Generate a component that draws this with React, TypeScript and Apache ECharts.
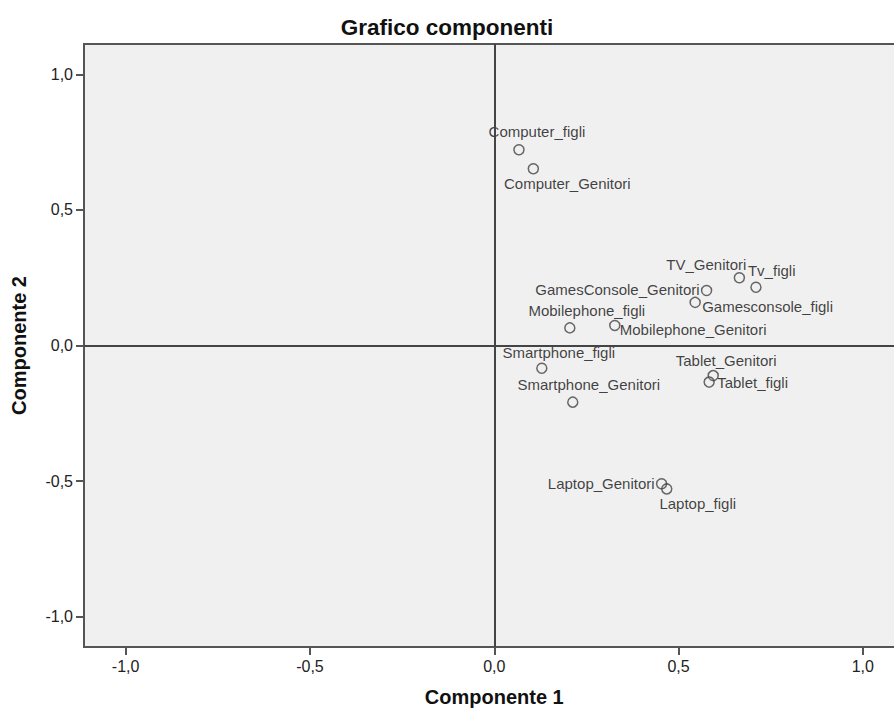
import React, { useEffect, useRef } from "react";
import * as echarts from "echarts";

const names = [
  "Computer_figli",
  "Computer_Genitori",
  "TV_Genitori",
  "Tv_figli",
  "GamesConsole_Genitori",
  "Gamesconsole_figli",
  "Mobilephone_figli",
  "Mobilephone_Genitori",
  "Smartphone_figli",
  "Smartphone_Genitori",
  "Tablet_Genitori",
  "Tablet_figli",
  "Laptop_Genitori",
  "Laptop_figli",
];
const componente1 = [0.067, 0.106, 0.665, 0.71, 0.576, 0.545, 0.205, 0.327, 0.129, 0.213, 0.594, 0.583, 0.454, 0.468];
const componente2 = [0.722, 0.652, 0.25, 0.215, 0.203, 0.159, 0.065, 0.074, -0.084, -0.209, -0.111, -0.135, -0.51, -0.529];
const tickValues = [-1, -0.5, 0, 0.5, 1];

// label placement relative to the marker: [align, dx, dy]
const labelLayout: [string, number, number][] = [
  ["center", 18, -18],
  ["center", 34, 15],
  ["right", 7, -13],
  ["left", -8, -17],
  ["right", -7, -1],
  ["left", 7, 4],
  ["center", 17, -17],
  ["left", 5, 4],
  ["center", 17, -16],
  ["center", 16, -18],
  ["center", 13, -15],
  ["left", 8, 0],
  ["right", -7, 0],
  ["center", 31, 15],
];

const FONT = "'Liberation Sans', Arial, Helvetica, sans-serif";
const fmt = (v: number) => v.toFixed(1).replace(".", ",");

export default function App() {
  const ref = useRef<HTMLDivElement>(null);
  useEffect(() => {
    if (!ref.current) return;
    const chart = echarts.init(ref.current, undefined, { renderer: "svg" });
    const data = names.map((n, i) => ({
      name: n,
      value: [componente1[i], componente2[i]],
      label: {
        show: true,
        position: "inside",
        align: labelLayout[i][0],
        verticalAlign: "middle",
        offset: [labelLayout[i][1], labelLayout[i][2]],
        formatter: n,
      },
    }));
    chart.setOption({
      animation: false,
      backgroundColor: "#ffffff",
      title: {
        text: "Grafico componenti",
        left: "center",
        top: 11,
        textStyle: { fontFamily: FONT, fontSize: 22.5, fontWeight: "bold", color: "#111" },
      },
      grid: {
        left: 84,
        top: 44,
        right: -10.5,
        height: 603,
        containLabel: false,
        outerBoundsMode: "none",
        show: true,
        backgroundColor: "#f0f0f0",
        borderColor: "#555",
        borderWidth: 2,
      },
      xAxis: {
        type: "value",
        min: -1.113,
        max: 1.113,
        name: "Componente 1",
        nameLocation: "middle",
        nameGap: 40,
        nameTextStyle: { fontFamily: FONT, fontSize: 20, fontWeight: "bold", color: "#111" },
        splitLine: { show: false },
        axisLine: { show: true, onZero: false, lineStyle: { color: "#555", width: 2 } },
        axisTick: { show: true, length: 8, customValues: tickValues, lineStyle: { color: "#555", width: 2 } },
        axisLabel: {
          customValues: tickValues,
          formatter: fmt,
          fontFamily: FONT,
          fontSize: 16,
          color: "#222",
          margin: 11,
        },
      },
      yAxis: {
        type: "value",
        min: -1.112,
        max: 1.112,
        name: "Componente 2",
        nameLocation: "middle",
        nameGap: 55,
        nameRotate: 90,
        nameTextStyle: { fontFamily: FONT, fontSize: 20, fontWeight: "bold", color: "#111" },
        splitLine: { show: false },
        axisLine: { show: true, onZero: false, lineStyle: { color: "#555", width: 2 } },
        axisTick: { show: true, length: 8, customValues: tickValues, lineStyle: { color: "#555", width: 2 } },
        axisLabel: {
          customValues: tickValues,
          formatter: fmt,
          fontFamily: FONT,
          fontSize: 16,
          color: "#222",
          margin: 11,
        },
      },
      series: [
        {
          type: "scatter",
          symbol: "circle",
          symbolSize: 10,
          itemStyle: { color: "rgba(0,0,0,0)", borderColor: "#444", borderWidth: 1.5 },
          label: { fontFamily: FONT, fontSize: 15, color: "#111" },
          data,
          markLine: {
            silent: true,
            symbol: "none",
            label: { show: false },
            lineStyle: { color: "#444", width: 2, type: "solid" },
            data: [{ xAxis: 0 }, { yAxis: 0 }],
          },
          z: 3,
        },
      ],
    });
    return () => chart.dispose();
  }, []);
  return (
    <div
      ref={ref}
      style={{ position: "fixed", left: 0, top: 0, width: 894, height: 710 }}
    />
  );
}
